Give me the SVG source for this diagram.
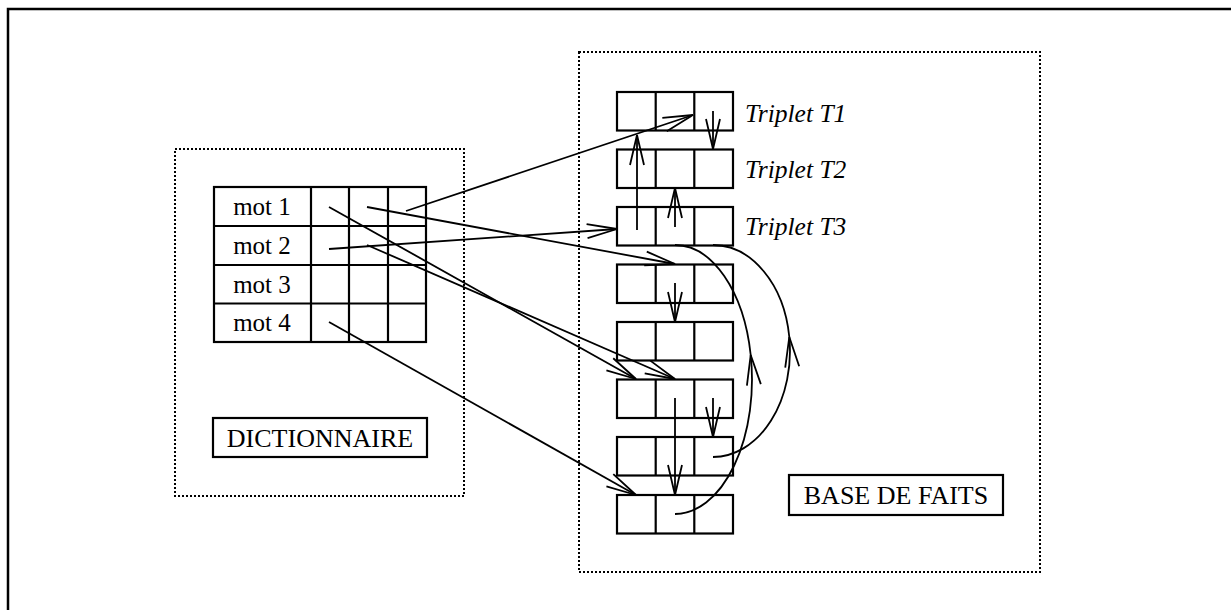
<svg xmlns="http://www.w3.org/2000/svg" width="1231" height="610" viewBox="0 0 1231 610">
<style>
.frame{fill:none;stroke:#000;stroke-width:2.5}
.dot{fill:none;stroke:#000;stroke-width:2;stroke-dasharray:2 2}
.cell{fill:#fff;stroke:#000;stroke-width:2.2}
.lab{fill:#fff;stroke:#000;stroke-width:2.2}
.t{font-family:"Liberation Serif","Times New Roman",serif;fill:#000}
.conn{fill:none;stroke:#000;stroke-width:1.8}
</style>
<defs>
<marker id="arr" markerUnits="userSpaceOnUse" markerWidth="40" markerHeight="20" refX="32" refY="10" orient="auto" overflow="visible">
<path d="M2,3 L32,10 L2,17" fill="none" stroke="#000" stroke-width="1.8"/>
</marker>
</defs>
<rect width="1231" height="610" fill="#fff"/>
<path class="frame" d="M8,612 L8,9 L1233,9"/>

<g id="dictionnaire">
<rect class="dot" x="175" y="149" width="289" height="347"/>
<g id="table">
<rect class="cell" x="214" y="187" width="212" height="155"/>
<path class="cell" d="M311,187V342M349,187V342M388,187V342M214,226H426M214,265H426M214,303.5H426"/>
<text class="t" x="262" y="215" font-size="25" text-anchor="middle">mot 1</text>
<text class="t" x="262" y="254" font-size="25" text-anchor="middle">mot 2</text>
<text class="t" x="262" y="292.5" font-size="25" text-anchor="middle">mot 3</text>
<text class="t" x="262" y="331" font-size="25" text-anchor="middle">mot 4</text>
</g>
<g id="label-dictionnaire">
<rect class="lab" x="213" y="418" width="214" height="39"/>
<text class="t" x="320" y="447" font-size="26" text-anchor="middle">DICTIONNAIRE</text>
</g>
</g>

<g id="base-de-faits">
<rect class="dot" x="579" y="52" width="461" height="520"/>
<g id="triplet1"><rect class="cell" x="617" y="92" width="116" height="38.5"/><path class="cell" d="M655.7,92v38.5M694.3,92v38.5"/></g>
<g id="triplet2"><rect class="cell" x="617" y="149.5" width="116" height="38.5"/><path class="cell" d="M655.7,149.5v38.5M694.3,149.5v38.5"/></g>
<g id="triplet3"><rect class="cell" x="617" y="207" width="116" height="38.5"/><path class="cell" d="M655.7,207v38.5M694.3,207v38.5"/></g>
<g id="triplet4"><rect class="cell" x="617" y="264.5" width="116" height="38.5"/><path class="cell" d="M655.7,264.5v38.5M694.3,264.5v38.5"/></g>
<g id="triplet5"><rect class="cell" x="617" y="322" width="116" height="38.5"/><path class="cell" d="M655.7,322v38.5M694.3,322v38.5"/></g>
<g id="triplet6"><rect class="cell" x="617" y="379.5" width="116" height="38.5"/><path class="cell" d="M655.7,379.5v38.5M694.3,379.5v38.5"/></g>
<g id="triplet7"><rect class="cell" x="617" y="437" width="116" height="38.5"/><path class="cell" d="M655.7,437v38.5M694.3,437v38.5"/></g>
<g id="triplet8"><rect class="cell" x="617" y="495" width="116" height="38.5"/><path class="cell" d="M655.7,495v38.5M694.3,495v38.5"/></g>
<text class="t" x="745" y="122" font-size="25.5" font-style="italic">Triplet T1</text>
<text class="t" x="745" y="178" font-size="25.5" font-style="italic">Triplet T2</text>
<text class="t" x="745" y="235" font-size="25.5" font-style="italic">Triplet T3</text>
<g id="label-base">
<rect class="lab" x="789" y="475" width="214" height="40"/>
<text class="t" x="896" y="504" font-size="26" text-anchor="middle">BASE DE FAITS</text>
</g>
</g>

<g id="connectors" class="conn" marker-end="url(#arr)">
<path d="M406,211 L693,115"/>
<path d="M367,207 L675,264"/>
<path d="M329,249 L617,229"/>
<path d="M329,207 L636,379"/>
<path d="M367,245 L675,379"/>
<path d="M329,322 L636,495"/>
<path d="M713,111 L713,149"/>
<path d="M637,230 L637,135"/>
<path d="M675,227 L675,188"/>
<path d="M675,283 L675,322"/>
<path d="M675,398 L675,495"/>
<path d="M713,398 L713,437"/>
<path d="M713,457 A77 106 0 0 0 789.3,337 A77 106 0 0 0 713,245" marker-end="none" marker-mid="url(#arr)"/>
<path d="M675,514 A77 134.5 0 0 0 750.7,355 A77 134.5 0 0 0 675,245" marker-end="none" marker-mid="url(#arr)"/>
</g>
</svg>
